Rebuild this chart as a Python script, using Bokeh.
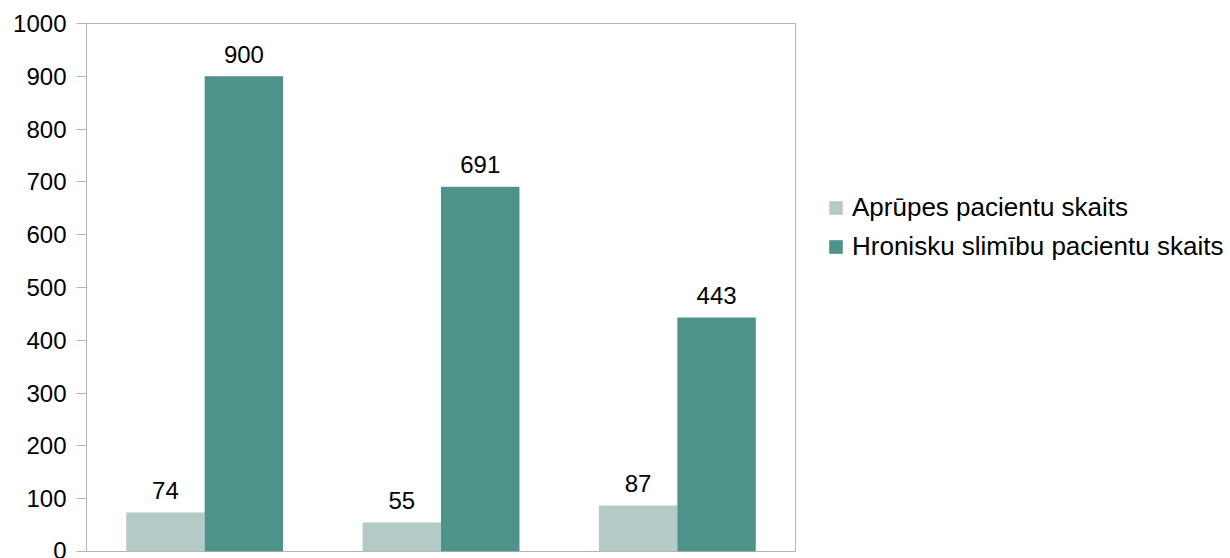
from bokeh.plotting import figure
from bokeh.models import ColumnDataSource, FactorRange, Legend, LegendItem, FixedTicker
from bokeh.transform import dodge
from bokeh.core.properties import value
from bokeh.embed import file_html
from bokeh.resources import INLINE

categories = ["1", "2", "3"]
series_names = ["Aprūpes pacientu skaits", "Hronisku slimību pacientu skaits"]
aprupes = [74, 55, 87]
hronisku = [900, 691, 443]
y_ticks = [0, 100, 200, 300, 400, 500, 600, 700, 800, 900, 1000]

colors = ["#b4cac7", "#4f9289"]
FONT = "Liberation Sans"

src = ColumnDataSource(dict(
    cat=categories,
    a=aprupes,
    h=hronisku,
    a_txt=[str(v) for v in aprupes],
    h_txt=[str(v) for v in hronisku],
))

p = figure(
    x_range=FactorRange(*categories, range_padding=0),
    y_range=(0, 1000),
    frame_width=709, frame_height=528,
    min_border_left=86, min_border_top=23, min_border_bottom=7, min_border_right=0,
    output_backend="svg", toolbar_location=None,
)
p.x_range.range_padding = 0

bw = 0.332
r1 = p.vbar(x=dodge("cat", -bw / 2, range=p.x_range), top="a", width=bw,
            source=src, fill_color=colors[0], line_color=None)
r2 = p.vbar(x=dodge("cat", bw / 2, range=p.x_range), top="h", width=bw,
            source=src, fill_color=colors[1], line_color=None)

p.text(x=dodge("cat", -bw / 2, range=p.x_range), y="a", text="a_txt", source=src,
       text_align="center", text_baseline="alphabetic", y_offset=-22,
       text_font=value(FONT), text_font_size="24px", text_color="#000000")
p.text(x=dodge("cat", bw / 2, range=p.x_range), y="h", text="h_txt", source=src,
       text_align="center", text_baseline="alphabetic", y_offset=-22,
       text_font=value(FONT), text_font_size="24px", text_color="#000000")

p.xaxis.visible = False
p.xgrid.visible = False
p.ygrid.visible = False
p.outline_line_color = "#b3b3b3"
p.outline_line_width = 1

ax = p.yaxis[0]
ax.ticker = FixedTicker(ticks=y_ticks)
ax.axis_line_color = "#b3b3b3"
ax.major_tick_line_color = "#b3b3b3"
ax.major_tick_out = 10
ax.major_tick_in = 0
ax.minor_tick_line_color = None
ax.major_label_standoff = 10
ax.major_label_text_font = FONT
ax.major_label_text_font_size = "24px"
ax.major_label_text_color = "#000000"

legend = Legend(
    items=[LegendItem(label=series_names[0], renderers=[r1]),
           LegendItem(label=series_names[1], renderers=[r2])],
    location=(32, 289),
    border_line_color=None, background_fill_alpha=0,
    padding=0, margin=0, spacing=8,
    glyph_width=17, glyph_height=17, label_standoff=8,
    label_text_font=FONT, label_text_font_size="26px", label_text_color="#000000",
    label_height=17,
)
p.add_layout(legend, "right")

open("out.html", "w").write(file_html(p, INLINE))
